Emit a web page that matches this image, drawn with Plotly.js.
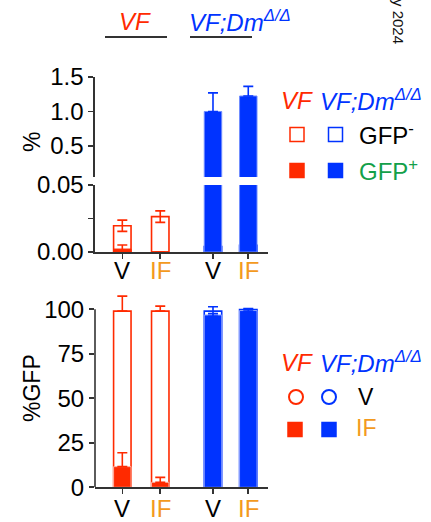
<!DOCTYPE html>
<html><head><meta charset="utf-8">
<script src="https://cdn.plot.ly/plotly-3.0.1.min.js"></script>
<style>html,body{margin:0;padding:0;background:#fff}</style>
</head><body><div id="chart" style="width:431px;height:522px"></div>
<script>
// ---------- data ----------
const samples = ['V', 'IF'];
const genotypes = ['VF', 'VF;Dm'];
// top panel (%): GFP- (hollow) and GFP+ (filled)
const topVF_neg = [0.0196, 0.0264];
const topVF_negErr = [0.0042, 0.0043];
const topVF_pos = [0.0022, 0];
const topVF_posErr = [0.0030, 0];
const topDm_neg = [0.004, 0.005];
const topDm_negErr = [0.001, 0.001];
const topDm_pos = [1.00, 1.224];
const topDm_posErr = [0.27, 0.14];
// bottom panel (%GFP): V (hollow) and IF (filled)
const botVF_V = [99.0, 99.0];
const botVF_Verr = [8.4, 2.8];
const botVF_IF = [11.6, 2.8];
const botVF_IFerr = [7.8, 2.8];
const botDm_V = [99.0, 99.8];
const botDm_Verr = [2.4, 0.6];
const botDm_IF = [96.8, 99.3];
const botDm_IFerr = [0.8, 0.5];
const tickLabels = ['V', 'IF', 'V', 'IF'];

// ---------- style / layout ----------
const RED = '#ff2a00', BLUE = '#0033ff', ORANGE = '#f39a1e', GREEN = '#13a04a', AX = '#333333';
const FONT = 'Arial, "Liberation Sans", sans-serif';
const slotX = [0, 1, 2.39, 3.32];
const vfX = slotX.slice(0, 2), dmX = slotX.slice(2, 4);
const BW = 0.46;
const W = 431, H = 522;
const px = v => v / W, py = v => 1 - v / H;

function err(arr, up, minusZero) {
  return {type: 'data', array: arr, arrayminus: minusZero ? arr.map(() => 0) : arr, symmetric: false,
          color: up, thickness: 1.6, width: 5};
}
function hollow(x, y, e, col, xa, ya, minusZero) {
  return {type: 'bar', x: x, y: y, width: BW, xaxis: xa, yaxis: ya,
    marker: {color: '#ffffff', line: {color: col, width: 1.6}},
    error_y: err(e, col, minusZero), hoverinfo: 'skip', showlegend: false};
}
function filled(x, y, e, col, lineCol, xa, ya, minusZero) {
  return {type: 'bar', x: x, y: y, width: BW, xaxis: xa, yaxis: ya,
    marker: {color: col, line: {color: lineCol, width: 1}},
    error_y: err(e, col, minusZero), hoverinfo: 'skip', showlegend: false};
}

const traces = [];
['y', 'y2'].forEach(ya => {
  traces.push(hollow(vfX, topVF_neg, topVF_negErr, RED, 'x', ya, false));
  traces.push(filled(vfX, topVF_pos, topVF_posErr, RED, RED, 'x', ya, false));
  traces.push(hollow(dmX, topDm_neg, topDm_negErr, BLUE, 'x', ya, false));
  traces.push(filled(dmX, topDm_pos, topDm_posErr, BLUE, '#6f8cff', 'x', ya, true));
});
traces.push(hollow(vfX, botVF_V, botVF_Verr, RED, 'x2', 'y3', true));
traces.push(filled(vfX, botVF_IF, botVF_IFerr, RED, '#ffb0a0', 'x2', 'y3', true));
traces.push(hollow(dmX, botDm_V, botDm_Verr, BLUE, 'x2', 'y3', false));
traces.push(filled(dmX, botDm_IF, botDm_IFerr, BLUE, '#8aa0ff', 'x2', 'y3', false));

const xRange = [-0.72, 3.84];
const xDom = [px(95), px(268)];
const baseAxis = {showline: true, linecolor: AX, linewidth: 1.6, ticks: 'outside', ticklen: 5,
  tickwidth: 1.6, tickcolor: AX, showgrid: false, zeroline: false, fixedrange: true,
  tickfont: {family: FONT, size: 24, color: '#000'}};

const ann = [];
const shapes = [];
function txt(x, y, text, size, color, extra) {
  ann.push(Object.assign({xref: 'paper', yref: 'paper', x: px(x), y: py(y), text: text, showarrow: false,
    xanchor: 'center', yanchor: 'middle', font: {family: FONT, size: size, color: color}}, extra || {}));
}
// x category labels, placed through the x axes
tickLabels.forEach((t, i) => {
  [['x', 270], ['x2', 508]].forEach(([xa, yy]) => {
    ann.push({xref: xa, yref: 'paper', x: slotX[i], y: py(yy), text: t, showarrow: false,
      xanchor: 'center', yanchor: 'middle', font: {family: FONT, size: 24, color: t === 'IF' ? ORANGE : '#000'}});
  });
});
const DM = '<i>VF;Dm<sup>Δ/Δ</sup></i>';
// header
txt(135, 21, '<i>VF</i>', 24, RED);
txt(187, 21, DM, 24, BLUE, {xanchor: 'left'});
shapes.push({type: 'line', xref: 'paper', yref: 'paper', x0: px(105), x1: px(167), y0: py(37), y1: py(37), line: {color: AX, width: 2.2}});
shapes.push({type: 'line', xref: 'paper', yref: 'paper', x0: px(190), x1: px(252), y0: py(37), y1: py(37), line: {color: AX, width: 2.2}});
// watermark
txt(399, 21, 'y 2024', 15, '#111', {textangle: 90});
// y titles
txt(32, 142, '%', 23, '#000', {textangle: -90});
txt(32, 388, '%GFP', 23, '#000', {textangle: -90});
// bottom-panel y axis line (0..100 only)
shapes.push({type: 'line', xref: 'paper', yref: 'y3', x0: px(95), x1: px(95), y0: 0, y1: 100, line: {color: AX, width: 1.6}});
// top legend
txt(279, 100, '<i>VF</i>', 24, RED, {xanchor: 'left'});
txt(318, 100, DM, 24, BLUE, {xanchor: 'left'});
function sq(cx, cy, s, col, fill) {
  shapes.push({type: 'rect', xref: 'paper', yref: 'paper', x0: px(cx - s / 2), x1: px(cx + s / 2),
    y0: py(cy + s / 2), y1: py(cy - s / 2), line: {color: col, width: 1.5}, fillcolor: fill});
}
function circ(cx, cy, s, col) {
  shapes.push({type: 'circle', xref: 'paper', yref: 'paper', x0: px(cx - s / 2), x1: px(cx + s / 2),
    y0: py(cy + s / 2), y1: py(cy - s / 2), line: {color: col, width: 2}, fillcolor: 'rgba(0,0,0,0)'});
}
sq(297, 134.5, 14, RED, '#ffffff');
sq(335.5, 134.5, 14, BLUE, '#ffffff');
txt(357, 134, 'GFP<sup>-</sup>', 24, '#000', {xanchor: 'left'});
sq(297, 170.5, 14, RED, RED);
sq(335.5, 170.5, 14, BLUE, BLUE);
txt(357, 170, 'GFP<sup>+</sup>', 24, GREEN, {xanchor: 'left'});
// bottom legend
txt(279, 362, '<i>VF</i>', 24, RED, {xanchor: 'left'});
txt(318, 362, DM, 24, BLUE, {xanchor: 'left'});
circ(296, 397, 14, RED);
circ(329, 397, 14, BLUE);
txt(366, 397, 'V', 23, '#000');
sq(295, 429.5, 14, RED, RED);
sq(329, 429.5, 14, BLUE, BLUE);
txt(366, 428, 'IF', 23, ORANGE);

const layout = {
  width: W, height: H, margin: {l: 0, r: 0, t: 0, b: 0}, paper_bgcolor: '#fff', plot_bgcolor: 'rgba(0,0,0,0)',
  barmode: 'overlay', showlegend: false,
  xaxis: Object.assign({}, baseAxis, {domain: xDom, range: xRange, anchor: 'y', tickvals: slotX, showticklabels: false}),
  xaxis2: Object.assign({}, baseAxis, {domain: xDom, range: xRange, anchor: 'y3', tickvals: slotX, showticklabels: false}),
  yaxis: Object.assign({}, baseAxis, {domain: [py(252), py(185)], range: [0, 0.05], anchor: 'x',
    tickvals: [0, 0.025, 0.05], ticktext: ['0.00', '', '0.05']}),
  yaxis2: Object.assign({}, baseAxis, {domain: [py(177), py(77)], range: [0.05, 1.5], anchor: 'x',
    tickvals: [0.5, 1.0, 1.5], ticktext: ['0.5', '1.0', '1.5']}),
  yaxis3: Object.assign({}, baseAxis, {domain: [py(487.3), py(291.5)], range: [0, 110], anchor: 'x2',
    showline: false, tickvals: [0, 25, 50, 75, 100]}),
  annotations: ann, shapes: shapes
};
Plotly.newPlot('chart', traces, layout, {staticPlot: true, displayModeBar: false});
</script></body></html>
